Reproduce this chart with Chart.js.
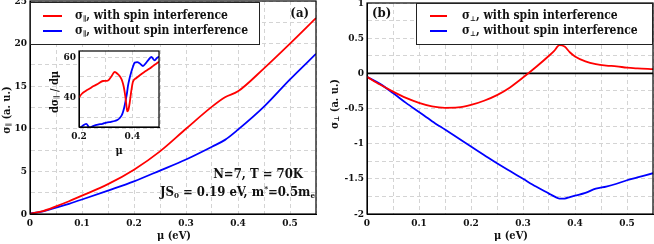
<!DOCTYPE html>
<html><head><meta charset="utf-8">
<script src="https://cdn.jsdelivr.net/npm/chart.js@4/dist/chart.umd.min.js"></script>
<style>
html,body{margin:0;padding:0;background:#fff;}
#wrap{position:relative;width:654px;height:244px;overflow:hidden;background:#fff;}
canvas{position:absolute;display:block;}
</style></head><body>
<div id="wrap">
<canvas id="cA" width="330" height="244" style="left:0;top:0"></canvas>
<canvas id="cB" width="324" height="244" style="left:330px;top:0"></canvas>
<canvas id="cI" width="125" height="115" style="left:40px;top:45px"></canvas>
</div>
<script>
// ---------- data ----------
const muA = [0, 0.025, 0.05, 0.075, 0.1, 0.15, 0.2, 0.25, 0.3, 0.35, 0.375, 0.4, 0.45, 0.5, 0.55];
const sigParWith = [0.05, 0.35, 0.9, 1.5, 2.15, 3.5, 5.2, 7.35, 10.0, 12.6, 13.7, 14.4, 17.1, 20.0, 23.0];
const sigParWithout = [0.05, 0.3, 0.75, 1.2, 1.7, 2.75, 3.83, 5.1, 6.4, 7.9, 8.7, 9.9, 12.6, 15.8, 18.8];

const muB = [0, 0.025, 0.05, 0.075, 0.1, 0.125, 0.15, 0.175, 0.2, 0.225, 0.25, 0.275, 0.3, 0.325, 0.35, 0.36, 0.37, 0.38, 0.39, 0.4, 0.42, 0.44, 0.46, 0.48, 0.5, 0.52, 0.55];
const sigPerpWith = [-0.05, -0.16, -0.26, -0.35, -0.42, -0.47, -0.49, -0.485, -0.45, -0.39, -0.31, -0.2, -0.06, 0.09, 0.25, 0.32, 0.40, 0.38, 0.30, 0.24, 0.17, 0.13, 0.11, 0.10, 0.08, 0.07, 0.06];
const sigPerpWithout = [-0.05, -0.15, -0.28, -0.42, -0.55, -0.68, -0.80, -0.92, -1.04, -1.16, -1.28, -1.39, -1.50, -1.61, -1.71, -1.75, -1.78, -1.78, -1.76, -1.74, -1.70, -1.64, -1.61, -1.57, -1.52, -1.48, -1.42];

const muInsetWith = [0.2, 0.21, 0.225, 0.24, 0.255, 0.27, 0.29, 0.308, 0.32, 0.334, 0.345, 0.355, 0.362, 0.368, 0.374, 0.378, 0.381, 0.385, 0.39, 0.395, 0.402, 0.415, 0.428, 0.445, 0.465, 0.48, 0.496, 0.5];
const insetWith = [39.7, 41.5, 43.0, 44.2, 45.5, 46.5, 48.0, 48.2, 50.0, 52.5, 51.5, 50.0, 48.0, 45.0, 40.0, 35.5, 32.8, 33.5, 37.0, 42.0, 47.5, 49.5, 50.9, 52.5, 54.2, 55.8, 57.2, 57.6];
const muInsetWithout = [0.2, 0.215, 0.227, 0.24, 0.255, 0.271, 0.288, 0.303, 0.32, 0.334, 0.345, 0.353, 0.36, 0.365, 0.37, 0.375, 0.38, 0.384, 0.39, 0.396, 0.402, 0.409, 0.418, 0.428, 0.44, 0.45, 0.459, 0.471, 0.484, 0.492, 0.5];
const insetWithout = [24.0, 25.8, 26.6, 24.7, 25.6, 26.2, 26.6, 27.2, 27.6, 28.0, 28.6, 29.5, 30.8, 32.5, 35.0, 38.3, 42.0, 45.8, 49.5, 52.5, 55.0, 57.2, 57.4, 56.8, 55.5, 56.8, 58.3, 60.0, 58.3, 59.5, 60.3];

const xTickValsA = [0, 0.1, 0.2, 0.3, 0.4, 0.5];
const xTickLabelsA = ['0', '0.1', '0.2', '0.3', '0.4', '0.5'];
const yTickValsA = [0, 5, 10, 15, 20, 25];
const yTickLabelsA = ['0', '5', '10', '15', '20', '25'];
const yTickValsB = [-2, -1.5, -1, -0.5, 0, 0.5, 1];
const yTickLabelsB = ['-2', '-1.5', '-1', '-0.5', '0', '0.5', '1'];
const xTickValsI = [0.2, 0.4];
const xTickLabelsI = ['0.2', '0.4'];
const yTickValsI = [40, 60];
const yTickLabelsI = ['40', '60'];
const yGridI = [30, 40, 50, 60];
const xGridI = [0.2, 0.3, 0.4, 0.5];

const legendA = [['σ', '∥', ', with spin interference'], ['σ', '∥', ', without spin interference']];
const legendB = [['σ', '⊥', ', with spin interference'], ['σ', '⊥', ', without spin interference']];

// ---------- style ----------
const FAM = "'DejaVu Serif Condensed', 'DejaVu Serif', serif";
const RED = '#ff0000', BLUE = '#0000ff';
const GRID = '#d4d4d4';

function pts(xs, ys) { return xs.map((x, i) => ({x: x, y: ys[i]})); }
function lab(vals, labels) {
  return v => { for (let i = 0; i < vals.length; i++) if (Math.abs(vals[i] - v) < 1e-6) return labels[i]; return ''; };
}
function font(sz) { return 'bold ' + sz + 'px ' + FAM; }

function rich(ctx, parts, x, y, align) {
  let w = 0;
  parts.forEach(p => { ctx.font = font(p[1]); w += ctx.measureText(p[0]).width; });
  let cx = align === 'right' ? x - w : (align === 'center' ? x - w / 2 : x);
  ctx.textBaseline = 'middle';
  ctx.textAlign = 'left';
  parts.forEach(p => { ctx.font = font(p[1]); ctx.fillText(p[0], cx, y + (p[2] || 0)); cx += ctx.measureText(p[0]).width; });
}
function richV(ctx, parts, x, y) {
  ctx.save(); ctx.translate(x, y); ctx.rotate(-Math.PI / 2); rich(ctx, parts, 0, 0, 'center'); ctx.restore();
}

function ds(data, color) {
  return {data: data, borderColor: color, backgroundColor: color, borderWidth: 1.8, pointRadius: 0, fill: false, cubicInterpolationMode: 'monotone'};
}
function scaleX(min, max, step, vals, labels, h, fs, grid) {
  const s = {type: 'linear', min: min, max: max,
    grid: {color: GRID, drawTicks: false, lineWidth: 1},
    border: {display: true, color: '#000', width: 1, dash: [4, 3]},
    ticks: {stepSize: step, autoSkip: false, maxRotation: 0, padding: 3, color: '#111', font: {family: FAM, weight: 'bold', size: fs}, callback: lab(vals, labels)},
    afterFit: sc => { sc.height = h; sc.paddingLeft = 0; sc.paddingRight = 0; }};
  if (grid) s.afterBuildTicks = sc => { sc.ticks = grid.map(v => ({value: v})); };
  return s;
}
function scaleY(min, max, step, vals, labels, w, fs, grid) {
  const s = {type: 'linear', min: min, max: max,
    grid: {color: GRID, drawTicks: false, lineWidth: 1},
    border: {display: true, color: '#000', width: 1, dash: [4, 3]},
    ticks: {stepSize: step, autoSkip: false, padding: 3, color: '#111', font: {family: FAM, weight: 'bold', size: fs}, callback: lab(vals, labels)},
    afterFit: sc => { sc.width = w; sc.paddingTop = 0; sc.paddingBottom = 0; }};
  if (grid) s.afterBuildTicks = sc => { sc.ticks = grid.map(v => ({value: v})); };
  return s;
}

function frame(ctx, a) {
  ctx.save(); ctx.strokeStyle = '#000'; ctx.lineWidth = 1.2; ctx.setLineDash([]);
  ctx.strokeRect(a.left, a.top, a.right - a.left, a.bottom - a.top); ctx.restore();
}
function legend(ctx, box, items, lx0, lx1, tx, ys) {
  ctx.save();
  ctx.fillStyle = '#fff'; ctx.fillRect(box[0], box[1], box[2], box[3]);
  ctx.strokeStyle = '#222'; ctx.lineWidth = 1; ctx.setLineDash([]);
  ctx.strokeRect(box[0] + 0.5, box[1] + 0.5, box[2], box[3]);
  const cols = [RED, BLUE];
  items.forEach((it, i) => {
    ctx.strokeStyle = cols[i]; ctx.lineWidth = 2;
    ctx.beginPath(); ctx.moveTo(lx0, ys[i]); ctx.lineTo(lx1, ys[i]); ctx.stroke();
    ctx.fillStyle = '#111';
    rich(ctx, [[it[0], 12, 0], [it[1], 7, 3], [it[2], 12, 0]], tx, ys[i], 'left');
  });
  ctx.restore();
}

Chart.defaults.font.family = FAM;
Chart.defaults.color = '#111';

// ---------- panel (a) ----------
new Chart(document.getElementById('cA'), {
  type: 'line',
  data: {datasets: [ds(pts(muA, sigParWith), RED), ds(pts(muA, sigParWithout), BLUE)]},
  options: {
    responsive: false, devicePixelRatio: 1, animation: false,
    layout: {padding: {top: 1, right: 14, left: 0, bottom: 0}},
    plugins: {legend: {display: false}, tooltip: {enabled: false}},
    scales: {x: scaleX(0, 0.55, 0.05, xTickValsA, xTickLabelsA, 30, 10), y: scaleY(0, 25, 2.5, yTickValsA, yTickLabelsA, 30, 10)}
  },
  plugins: [{id: 'decoA', afterDraw(c) {
    const ctx = c.ctx, a = c.chartArea;
    frame(ctx, a);
    legend(ctx, [30, 2, 229, 42], legendA, 43, 62, 75, [16, 31]);
    ctx.fillStyle = '#111';
    rich(ctx, [['(a)', 13, 0]], 309, 14, 'right');
    rich(ctx, [['N=7, T = 70K', 13, 0]], 303, 175, 'right');
    rich(ctx, [['JS', 13, 0], ['0', 8, 3], [' = 0.19 eV, m', 13, 0], ['*', 8, -4], ['=0.5m', 13, 0], ['e', 8, 3]], 315, 193, 'right');
    richV(ctx, [['σ', 11, 0], ['∥', 7, 2.5], [' (a. u.)', 11, 0]], 7, 110);
    rich(ctx, [['μ (eV)', 11, 0]], 174, 236, 'center');
  }}]
});

// ---------- panel (b) ----------
new Chart(document.getElementById('cB'), {
  type: 'line',
  data: {datasets: [ds(pts(muB, sigPerpWith), RED), ds(pts(muB, sigPerpWithout), BLUE)]},
  options: {
    responsive: false, devicePixelRatio: 1, animation: false,
    layout: {padding: {top: 3, right: 1, left: 0, bottom: 0}},
    plugins: {legend: {display: false}, tooltip: {enabled: false}},
    scales: {x: scaleX(0, 0.55, 0.05, xTickValsA, xTickLabelsA, 30, 10), y: scaleY(-2, 1, 0.25, yTickValsB, yTickLabelsB, 37, 10)}
  },
  plugins: [{id: 'zero', beforeDatasetsDraw(c) {
    const ctx = c.ctx, a = c.chartArea, y0 = c.scales.y.getPixelForValue(0);
    ctx.save(); ctx.strokeStyle = '#000'; ctx.lineWidth = 1.6;
    ctx.beginPath(); ctx.moveTo(a.left, y0); ctx.lineTo(a.right, y0); ctx.stroke(); ctx.restore();
  }, afterDraw(c) {
    const ctx = c.ctx, a = c.chartArea;
    frame(ctx, a);
    legend(ctx, [86, 3, 236, 41], legendB, 100, 117, 132, [16, 31]);
    ctx.fillStyle = '#111';
    rich(ctx, [['(b)', 13, 0]], 42, 14, 'left');
    richV(ctx, [['σ', 11, 0], ['⊥', 7, 2.5], [' (a. u.)', 11, 0]], 5, 104);
    rich(ctx, [['μ (eV)', 11, 0]], 181, 236, 'center');
  }}]
});

// ---------- inset ----------
new Chart(document.getElementById('cI'), {
  type: 'line',
  data: {datasets: [ds(pts(muInsetWith, insetWith), RED), ds(pts(muInsetWithout, insetWithout), BLUE)]},
  options: {
    responsive: false, devicePixelRatio: 1, animation: false,
    layout: {padding: {top: 6, right: 6, left: 0, bottom: 0}},
    plugins: {legend: {display: false}, tooltip: {enabled: false}},
    scales: {x: scaleX(0.2, 0.5, 0.1, xTickValsI, xTickLabelsI, 33, 10, xGridI), y: scaleY(25, 63, 10, yTickValsI, yTickLabelsI, 39, 10, yGridI)}
  },
  plugins: [{id: 'insetBg', beforeDraw(c) {
    const ctx = c.ctx, a = c.chartArea;
    ctx.save(); ctx.fillStyle = '#fff'; ctx.fillRect(a.left, a.top, a.right - a.left, a.bottom - a.top); ctx.restore();
  }, afterDraw(c) {
    const ctx = c.ctx, a = c.chartArea;
    frame(ctx, a);
    ctx.fillStyle = '#111';
    richV(ctx, [['dσ', 11, 0], ['∥', 7, 2.5], [' / dμ', 11, 0]], 15, 47);
    rich(ctx, [['μ', 11, 0]], 79, 106, 'center');
  }}]
});
</script>
</body></html>
